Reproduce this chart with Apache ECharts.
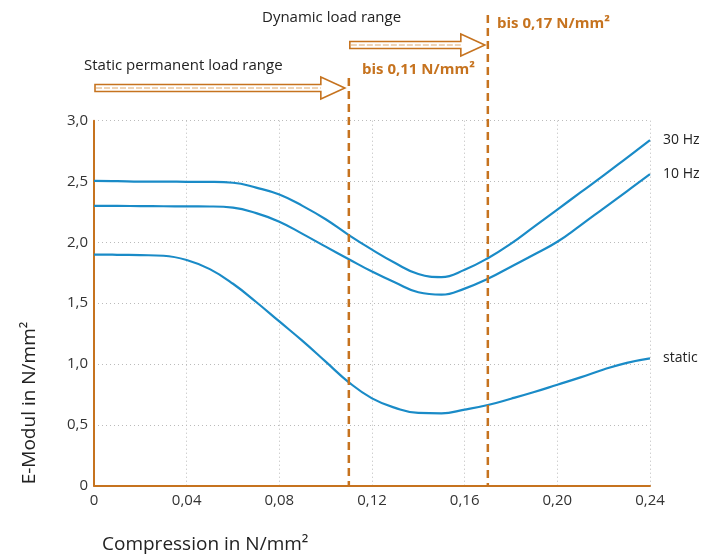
<!DOCTYPE html>
<html><head><meta charset="utf-8">
<script src="https://cdn.jsdelivr.net/npm/echarts@6/dist/echarts.min.js"></script>
<style>html,body{margin:0;padding:0;background:#fff}#c{width:708px;height:560px}</style>
</head><body><div id="c"></div>
<script>
const xTicks = [0, 0.04, 0.08, 0.12, 0.16, 0.20, 0.24];
const yTicks = [0, 0.5, 1.0, 1.5, 2.0, 2.5, 3.0];
const compression = [0,0.01,0.02,0.03,0.04,0.05,0.06,0.07,0.08,0.09,0.10,0.11,0.12,0.13,0.14,0.15,0.16,0.17,0.18,0.19,0.20,0.21,0.22,0.23,0.24];
const seriesNames = ['30 Hz', '10 Hz', 'static'];
const hz30 = [2.505,2.503,2.50,2.50,2.498,2.497,2.49,2.45,2.394,2.30,2.19,2.06,1.94,1.83,1.74,1.715,1.775,1.87,1.99,2.13,2.27,2.41,2.55,2.695,2.84];
const hz10 = [2.30,2.30,2.298,2.297,2.296,2.295,2.285,2.24,2.17,2.07,1.965,1.862,1.76,1.67,1.59,1.57,1.62,1.70,1.80,1.90,2.005,2.14,2.28,2.42,2.56];
const stat = [1.90,1.898,1.895,1.89,1.855,1.78,1.66,1.51,1.35,1.19,1.02,0.85,0.718,0.64,0.598,0.595,0.625,0.663,0.715,0.77,0.83,0.89,0.955,1.01,1.047];
const limits = [0.11, 0.17];
const limitLabels = ['bis 0,11 N/mm²', 'bis 0,17 N/mm²'];
const rangeLabels = ['Static permanent load range', 'Dynamic load range'];

const ORANGE = '#C6731F', BLUE = '#1A8BC7', TXT = '#222';
const FONT = 'Open Sans';

const chart = echarts.init(document.getElementById('c'));
function mkSeries(name, vals) {
  return {
    name, type: 'line', data: compression.map((x, i) => [x, vals[i]]), smooth: 0.45, symbol: 'none',
    lineStyle: { color: BLUE, width: 2.2 },
    endLabel: { show: true, formatter: name, color: TXT, fontFamily: FONT, fontSize: 14, distance: 13 }
  };
}
chart.setOption({
  animation: false,
  grid: { left: 94, right: 58, top: 120.7, bottom: 74.3 },
  xAxis: {
    type: 'value', min: 0, max: 0.24, interval: 0.04,
    axisLine: { lineStyle: { color: ORANGE, width: 2 } },
    axisTick: { show: false },
    axisLabel: { color: '#333', fontFamily: FONT, fontSize: 15, margin: 8, showMaxLabel: true,
      formatter: v => Math.abs(v) < 1e-9 ? '0' : v.toFixed(2).replace('.', ',') },
    splitLine: { show: true, lineStyle: { color: '#bbb', type: [1, 3], width: 1 } }
  },
  yAxis: {
    type: 'value', min: 0, max: 3, interval: 0.5,
    axisLine: { show: true, lineStyle: { color: ORANGE, width: 2 } },
    axisTick: { show: false },
    axisLabel: { color: '#333', fontFamily: FONT, fontSize: 15, margin: 6, formatter: v => v === 0 ? '0' : v.toFixed(1).replace('.', ',') },
    splitLine: { show: true, lineStyle: { color: '#bbb', type: [1, 3], width: 1 } }
  },
  series: [mkSeries(seriesNames[0], hz30), mkSeries(seriesNames[1], hz10), mkSeries(seriesNames[2], stat)]
});

const px = v => chart.convertToPixel({ gridIndex: 0 }, [v, 0]);
const p0 = px(0), pA = px(limits[0]), pB = px(limits[1]);
const yBottom = p0[1];

function arrow(x1, x2, cy) {
  const hl = 24, sh = 3.5, hh = 11;
  return [
    { type: 'polygon', shape: { points: [[x1, cy - sh], [x2 - hl, cy - sh], [x2 - hl, cy - hh], [x2, cy], [x2 - hl, cy + hh], [x2 - hl, cy + sh], [x1, cy + sh]] },
      style: { fill: '#fff', stroke: ORANGE, lineWidth: 1.6 } },
    { type: 'line', shape: { x1: x1 + 1, y1: cy, x2: x2 - hl, y2: cy }, style: { stroke: '#E0A86A', lineWidth: 1, lineDash: [6, 2] } }
  ];
}
const g = [];
g.push({ type: 'line', shape: { x1: pA[0], y1: 78, x2: pA[0], y2: yBottom }, style: { stroke: ORANGE, lineWidth: 2.5, lineDash: [8, 5] }, z: 10 });
g.push({ type: 'line', shape: { x1: pB[0], y1: 15, x2: pB[0], y2: yBottom }, style: { stroke: ORANGE, lineWidth: 2.5, lineDash: [8, 5] }, z: 10 });
g.push(...arrow(p0[0] + 1, pA[0] - 4, 88));
g.push(...arrow(pA[0] + 1, pB[0] - 3, 45));
g.push({ type: 'text', left: 84, top: 58, style: { text: rangeLabels[0], fill: TXT, font: '15px "' + FONT + '"' } });
g.push({ type: 'text', left: 262, top: 10, style: { text: rangeLabels[1], fill: TXT, font: '15px "' + FONT + '"' } });
g.push({ type: 'text', left: 362, top: 62, style: { text: limitLabels[0], fill: ORANGE, font: 'bold 15px "' + FONT + '"' } });
g.push({ type: 'text', left: 497, top: 16, style: { text: limitLabels[1], fill: ORANGE, font: 'bold 15px "' + FONT + '"' } });
g.push({ type: 'text', x: 30, y: 403, rotation: Math.PI / 2, style: { text: 'E-Modul in N/mm²', fill: TXT, font: '19px "' + FONT + '"', align: 'center', verticalAlign: 'middle' } });
g.push({ type: 'text', left: 102, top: 535, style: { text: 'Compression in N/mm²', fill: TXT, font: '19px "' + FONT + '"' } });
chart.setOption({ graphic: g });
</script></body></html>
